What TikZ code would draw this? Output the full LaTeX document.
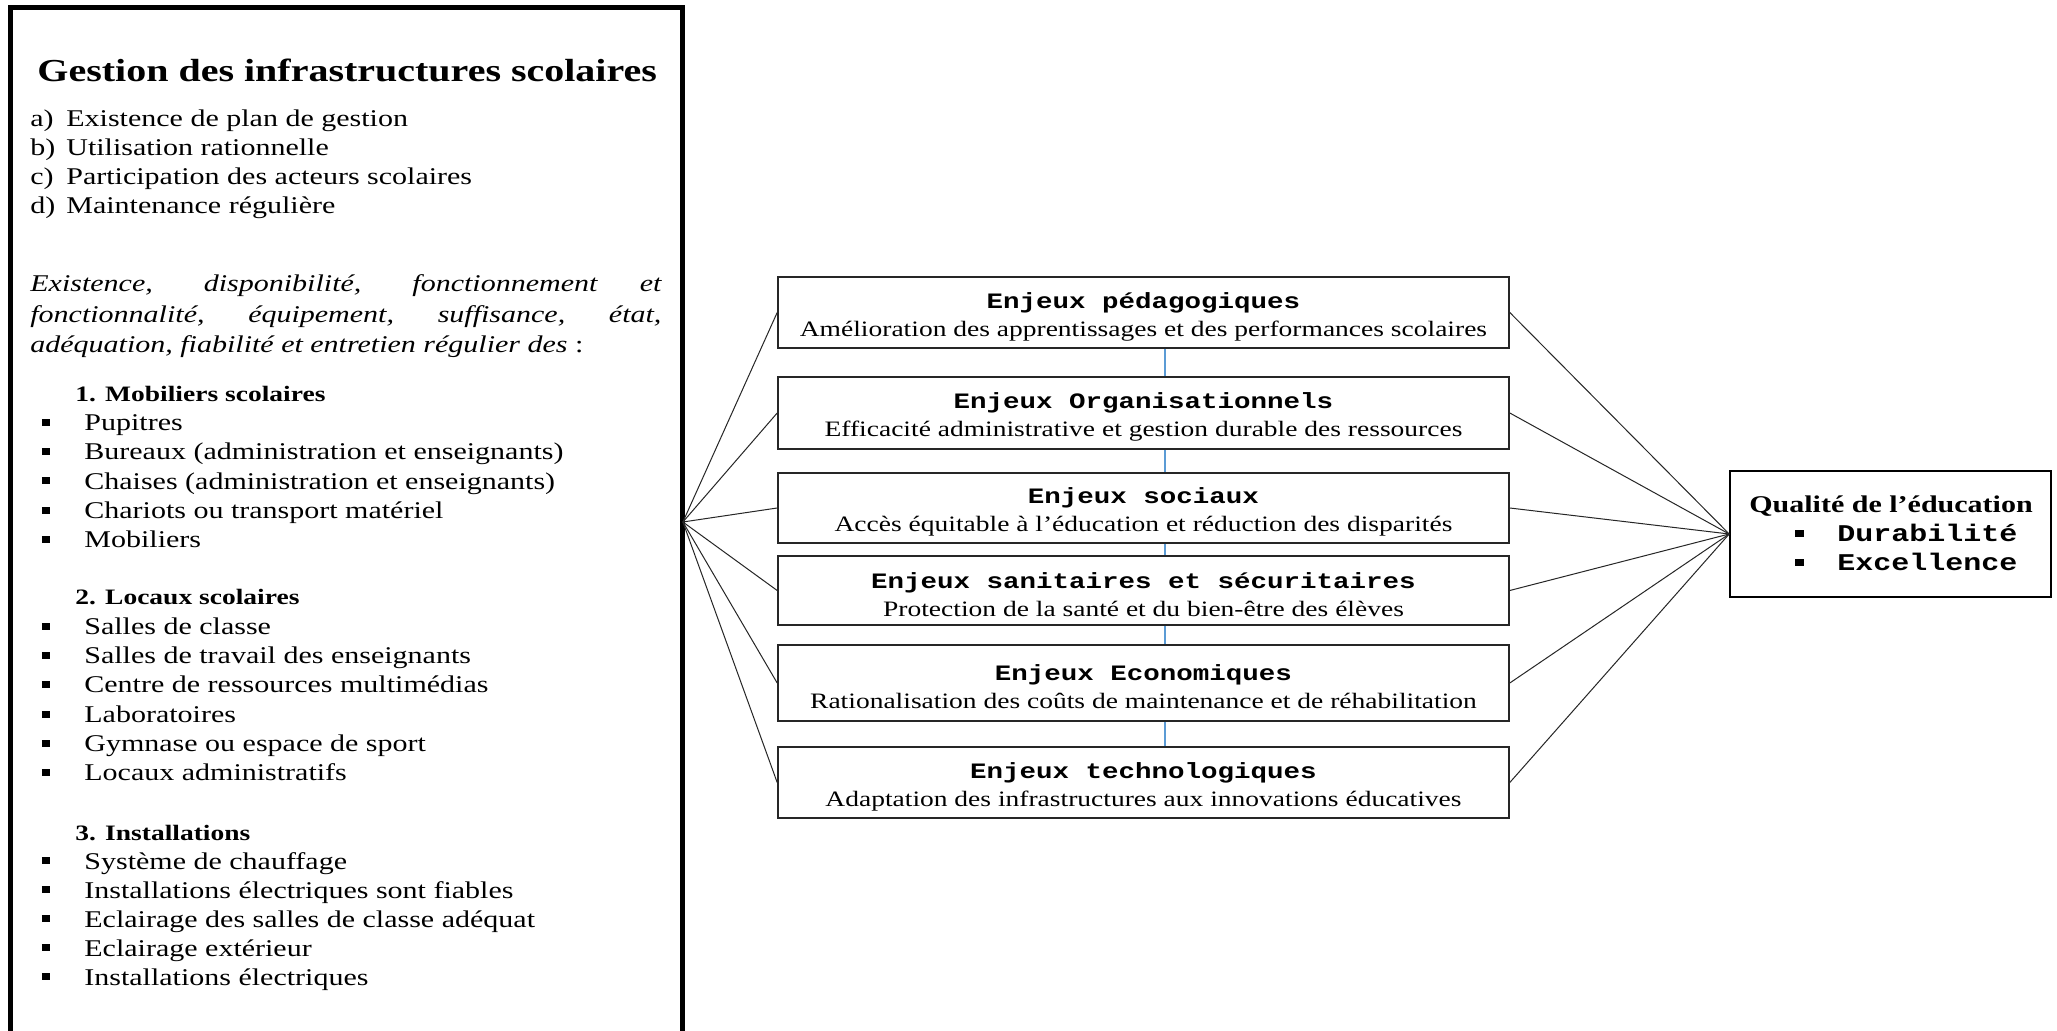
\documentclass[tikz,border=0pt]{standalone}
\usepackage{fontspec}
\setmainfont{Liberation Serif}[FakeStretch=1.25]
\newfontfamily\courfont{Liberation Mono}[FakeStretch=1.25]
\usetikzlibrary{calc}
\definecolor{linkblue}{HTML}{5B9BD5}
\newcommand{\sqbul}{\raisebox{2.5pt}{\rule{4.2pt}{3.6pt}}}
\begin{document}
\begin{tikzpicture}[x=0.5pt,y=-0.5pt,
  txt/.style={anchor=base west, inner sep=0pt, font=\fontsize{12}{14.6}\selectfont},
  itm/.style={txt},
  hd/.style={anchor=base west, inner sep=0pt, font=\bfseries\fontsize{11}{14}\selectfont},
  ital/.style={anchor=base west, inner sep=0pt, font=\itshape\fontsize{12}{14.6}\selectfont},
  enjeu/.style={draw=black!85, line width=0.8pt, minimum width=365.5pt, inner sep=0pt},
  etext/.style={align=center, inner sep=0pt, font=\fontsize{11}{14}\selectfont},
  fan/.style={draw=black!85, line width=0.5pt},
  link/.style={draw=linkblue, line width=0.6pt}]
\useasboundingbox (0,0) rectangle (2057,1031);
\fill[white] (0,0) rectangle (2057,1031);

% left box
\node[minimum width=335.75pt, minimum height=514.5pt, inner sep=0pt] (gestion) at (346.75,522) {};
\draw[line width=2.5pt] (gestion.south west) -- (gestion.north west) -- (gestion.north east) -- (gestion.south east);

\node[anchor=base west, inner sep=0pt, font=\bfseries\fontsize{16}{19}\selectfont] (title) at (37,82) {Gestion des infrastructures scolaires};
\node[txt] (la) at (30,127) {\makebox[18pt][l]{a)}Existence de plan de gestion};
\node[txt] (lb) at (30,156) {\makebox[18pt][l]{b)}Utilisation rationnelle};
\node[txt] (lc) at (30,185) {\makebox[18pt][l]{c)}Participation des acteurs scolaires};
\node[txt] (ld) at (30,214) {\makebox[18pt][l]{d)}Maintenance régulière};

\node[ital] (it1) at (30,292) {\makebox[315.5pt][s]{Existence, disponibilité, fonctionnement et}};
\node[ital] (it2) at (30,322.5) {\makebox[315.5pt][s]{fonctionnalité, équipement, suffisance, état,}};
\node[ital] (it3) at (30,353) {adéquation, fiabilité et entretien régulier des \textup{:}};

\node[hd] (h1) at (75,402) {1. Mobiliers scolaires};
\node[itm] (m1) at (41.5,431) {\makebox[21.25pt][l]{\sqbul}Pupitres};
\node[itm] (m2) at (41.5,460) {\makebox[21.25pt][l]{\sqbul}Bureaux (administration et enseignants)};
\node[itm] (m3) at (41.5,489.5) {\makebox[21.25pt][l]{\sqbul}Chaises (administration et enseignants)};
\node[itm] (m4) at (41.5,519) {\makebox[21.25pt][l]{\sqbul}Chariots ou transport matériel};
\node[itm] (m5) at (41.5,548) {\makebox[21.25pt][l]{\sqbul}Mobiliers};

\node[hd] (h2) at (75,605) {2. Locaux scolaires};
\node[itm] (s1) at (41.5,635) {\makebox[21.25pt][l]{\sqbul}Salles de classe};
\node[itm] (s2) at (41.5,664) {\makebox[21.25pt][l]{\sqbul}Salles de travail des enseignants};
\node[itm] (s3) at (41.5,693) {\makebox[21.25pt][l]{\sqbul}Centre de ressources multimédias};
\node[itm] (s4) at (41.5,723) {\makebox[21.25pt][l]{\sqbul}Laboratoires};
\node[itm] (s5) at (41.5,752) {\makebox[21.25pt][l]{\sqbul}Gymnase ou espace de sport};
\node[itm] (s6) at (41.5,781) {\makebox[21.25pt][l]{\sqbul}Locaux administratifs};

\node[hd] (h3) at (75,840) {3. Installations};
\node[itm] (i1) at (41.5,869) {\makebox[21.25pt][l]{\sqbul}Système de chauffage};
\node[itm] (i2) at (41.5,898) {\makebox[21.25pt][l]{\sqbul}Installations électriques sont fiables};
\node[itm] (i3) at (41.5,927) {\makebox[21.25pt][l]{\sqbul}Eclairage des salles de classe adéquat};
\node[itm] (i4) at (41.5,956) {\makebox[21.25pt][l]{\sqbul}Eclairage extérieur};
\node[itm] (i5) at (41.5,985) {\makebox[21.25pt][l]{\sqbul}Installations électriques};

% middle boxes
\node[enjeu, minimum height=35.5pt] (e1) at (1143.5,312.5) {};
\node[enjeu, minimum height=36pt] (e2) at (1143.5,413) {};
\node[enjeu, minimum height=35pt] (e3) at (1143.5,508) {};
\node[enjeu, minimum height=34.5pt] (e4) at (1143.5,590.5) {};
\node[enjeu, minimum height=38pt] (e5) at (1143.5,683) {};
\node[enjeu, minimum height=35.5pt] (e6) at (1143.5,782.5) {};
\node[etext] (e1t) at ($(e1.center)+(0,4)$) {{\courfont\bfseries Enjeux pédagogiques}\\Amélioration des apprentissages et des performances scolaires};
\node[etext] (e2t) at ($(e2.center)+(0,4)$) {{\courfont\bfseries Enjeux Organisationnels}\\Efficacité administrative et gestion durable des ressources};
\node[etext] (e3t) at ($(e3.center)+(0,4)$) {{\courfont\bfseries Enjeux sociaux}\\Accès équitable à l’éducation et réduction des disparités};
\node[etext] (e4t) at ($(e4.center)+(0,4)$) {{\courfont\bfseries Enjeux sanitaires et sécuritaires}\\Protection de la santé et du bien-être des élèves};
\node[etext] (e5t) at ($(e5.center)+(0,4)$) {{\courfont\bfseries Enjeux Economiques}\\Rationalisation des coûts de maintenance et de réhabilitation};
\node[etext] (e6t) at ($(e6.center)+(0,4)$) {{\courfont\bfseries Enjeux technologiques}\\Adaptation des infrastructures aux innovations éducatives};

\foreach \a/\b in {e1/e2,e2/e3,e3/e4,e4/e5,e5/e6}
  \draw[link] ($(\a.south)+(21.5,0)$) -- ($(\b.north)+(21.5,0)$);

% right box
\node[draw, line width=0.8pt, minimum width=160.5pt, minimum height=63pt, inner sep=0pt] (qual) at (1890.5,534) {};
\node[anchor=base, inner sep=0pt, font=\bfseries\fontsize{12}{14.5}\selectfont] (qt) at (1891,513) {Qualité de l’éducation};
\node[anchor=base west, inner sep=0pt, font=\fontsize{12}{14.5}\selectfont] (q1) at (1795,542) {\makebox[21pt][l]{\sqbul}{\courfont\bfseries Durabilité}};
\node[anchor=base west, inner sep=0pt, font=\fontsize{12}{14.5}\selectfont] (q2) at (1795,571) {\makebox[21pt][l]{\sqbul}{\courfont\bfseries Excellence}};

% fans
\foreach \n in {e1,e2,e3,e4,e5,e6} {
  \draw[fan] (gestion.east) -- (\n.west);
  \draw[fan] (\n.east) -- (qual.west);
}
\end{tikzpicture}
\end{document}
